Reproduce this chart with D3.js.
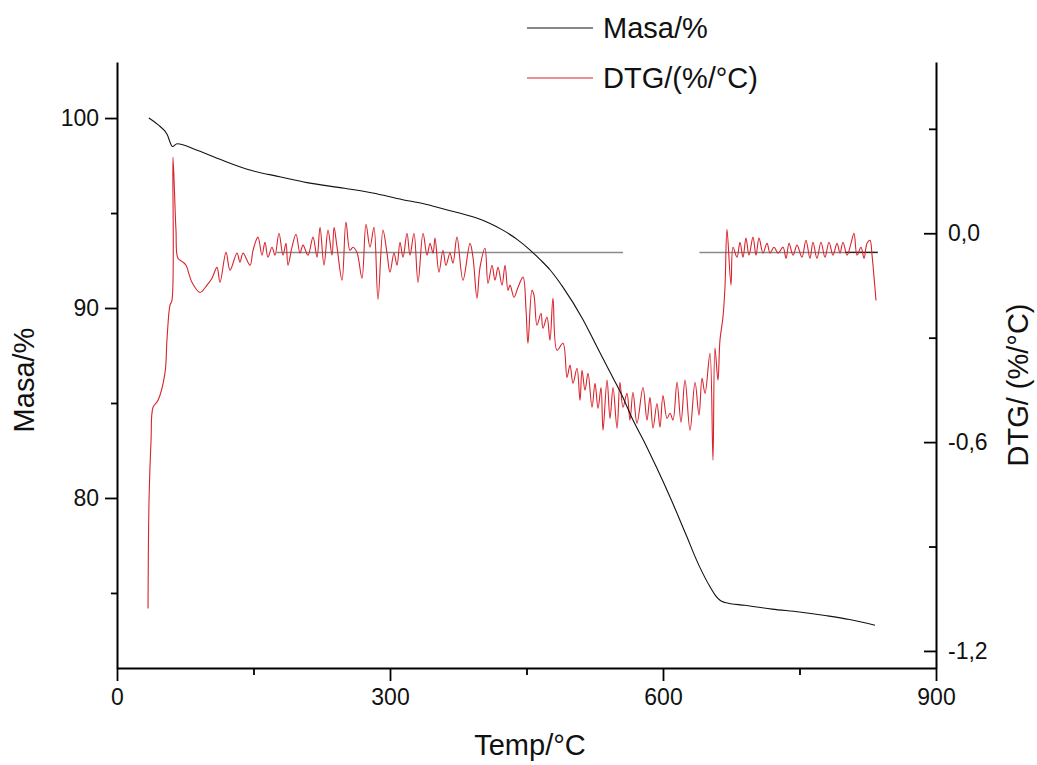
<!DOCTYPE html>
<html>
<head>
<meta charset="utf-8">
<script src="https://cdnjs.cloudflare.com/ajax/libs/d3/7.8.5/d3.min.js"></script>
<style>
  html, body { margin: 0; padding: 0; background: #fff; }
  svg { display: block; font-family: "Liberation Sans", Arial, sans-serif; }
</style>
</head>
<body>
<svg id="chart" width="1037" height="765"></svg>
<script>
// ---------- data ----------
const tempTicks = [0, 300, 600, 900];
const tempMinorTicks = [150, 450, 750];
const masaTicks = [80, 90, 100];
const masaMinorTicks = [75, 85, 95];
const dtgTicks = [-1.2, -0.6, 0.0];
const dtgTickLabels = ["-1,2", "-0,6", "0,0"];
const dtgMinorTicks = [-0.9, -0.3, 0.3];

const seriesNames = ["Masa/%", "DTG/(%/°C)"];

// Mass curve (TG)
const masaTemp = [35, 45, 55, 61, 66, 88, 120, 146, 180, 209, 250, 281, 314, 336, 360, 391, 410, 424, 440, 454, 465, 476, 490, 512, 527, 542, 555, 567, 580, 593, 610, 625, 640, 652, 658, 663, 668, 690, 720, 750, 780, 805, 833];
const masaValues = [100.0, 99.65, 99.15, 98.5, 98.65, 98.3, 97.7, 97.26, 96.9, 96.6, 96.3, 96.05, 95.7, 95.5, 95.2, 94.8, 94.45, 94.1, 93.6, 93.05, 92.55, 92.0, 91.1, 89.4, 88.0, 86.6, 85.4, 84.1, 82.9, 81.6, 79.8, 78.1, 76.4, 75.3, 74.85, 74.6, 74.5, 74.35, 74.15, 74.0, 73.8, 73.6, 73.3];

// DTG curve
const dtgTemp = [34.1, 35.2, 37.4, 39.6, 45.1, 52.7, 54.9, 58.2, 60.4, 61.5, 64.8, 67.0, 72.5, 75.8, 82.4, 91.2, 98.9, 104.4, 109.9, 113.2, 119.8, 124.2, 131.9, 135.2, 138.5, 146.2, 149.5, 154.9, 159.3, 162.6, 165.9, 170.3, 173.6, 178.0, 182.4, 185.7, 187.9, 192.3, 196.7, 201.1, 204.4, 209.9, 215.4, 219.8, 223.1, 227.5, 231.9, 236.3, 238.5, 241.8, 247.3, 251.6, 256.0, 259.3, 263.7, 269.2, 273.6, 278.0, 282.4, 286.8, 292.3, 296.7, 300.0, 304.4, 307.7, 311.0, 314.3, 318.7, 322.0, 326.4, 330.8, 336.3, 340.7, 344.0, 347.3, 349.5, 353.8, 358.2, 361.5, 365.9, 369.2, 373.6, 380.2, 387.9, 391.2, 395.6, 398.9, 404.4, 407.7, 412.1, 415.4, 418.7, 423.1, 426.4, 429.7, 431.9, 436.3, 440.7, 446.2, 449.5, 451.6, 456.0, 458.2, 461.5, 465.9, 468.1, 472.5, 475.8, 479.1, 483.5, 490.1, 494.5, 497.8, 501.1, 505.5, 508.8, 511.0, 514.3, 517.6, 522.0, 525.3, 528.6, 531.9, 534.1, 538.5, 541.8, 545.1, 549.5, 552.7, 556.0, 560.4, 563.7, 567.0, 571.4, 578.0, 582.4, 585.7, 589.0, 593.4, 596.7, 600.0, 604.4, 607.7, 611.0, 615.4, 619.8, 624.2, 629.7, 635.2, 639.6, 642.9, 646.2, 651.6, 654.9, 657.1, 660.4, 662.6, 665.9, 668.1, 670.3, 674.7, 676.9, 681.3, 684.6, 687.9, 691.2, 694.5, 698.9, 702.2, 705.5, 709.9, 714.3, 717.6, 722.0, 726.4, 731.9, 735.2, 738.5, 742.9, 747.3, 752.7, 757.1, 761.5, 764.8, 769.2, 773.6, 778.0, 782.4, 786.8, 791.2, 794.5, 797.8, 802.2, 806.6, 809.9, 813.2, 817.6, 820.9, 824.2, 827.5, 829.7, 831.9, 834.1];
const dtgValues = [-1.078, -0.767, -0.595, -0.500, -0.480, -0.402, -0.307, -0.207, -0.193, 0.218, 0.009, -0.072, -0.083, -0.092, -0.141, -0.170, -0.149, -0.129, -0.098, -0.141, -0.055, -0.106, -0.057, -0.083, -0.057, -0.092, -0.049, -0.011, -0.063, -0.026, -0.069, -0.040, -0.063, 0.000, -0.063, -0.029, -0.092, -0.040, -0.003, -0.057, -0.034, -0.063, -0.011, -0.069, 0.017, -0.092, 0.009, -0.063, 0.017, -0.040, -0.135, 0.032, -0.049, -0.040, -0.055, -0.129, 0.026, -0.040, 0.017, -0.190, 0.009, -0.057, -0.112, -0.057, -0.092, -0.026, -0.069, 0.000, -0.063, 0.000, -0.141, 0.000, -0.063, -0.029, -0.057, -0.014, -0.112, -0.049, -0.092, -0.057, -0.086, -0.011, -0.135, -0.029, -0.069, -0.187, -0.098, -0.043, -0.144, -0.092, -0.135, -0.098, -0.149, -0.092, -0.164, -0.149, -0.184, -0.155, -0.126, -0.221, -0.316, -0.164, -0.178, -0.264, -0.230, -0.273, -0.241, -0.307, -0.187, -0.336, -0.316, -0.414, -0.379, -0.431, -0.388, -0.480, -0.394, -0.451, -0.402, -0.500, -0.431, -0.503, -0.443, -0.566, -0.422, -0.532, -0.443, -0.560, -0.428, -0.500, -0.460, -0.537, -0.457, -0.546, -0.443, -0.537, -0.471, -0.560, -0.489, -0.557, -0.466, -0.532, -0.517, -0.537, -0.428, -0.543, -0.422, -0.566, -0.428, -0.523, -0.417, -0.460, -0.345, -0.652, -0.330, -0.422, -0.307, -0.241, -0.155, 0.011, -0.149, -0.040, -0.069, -0.026, -0.069, -0.014, -0.063, -0.011, -0.063, -0.014, -0.057, -0.029, -0.057, -0.040, -0.057, -0.040, -0.072, -0.029, -0.063, -0.034, -0.069, -0.020, -0.072, -0.026, -0.072, -0.026, -0.069, -0.026, -0.063, -0.029, -0.057, -0.026, -0.063, -0.029, 0.000, -0.063, -0.040, -0.072, -0.029, -0.020, -0.063, -0.126, -0.193];

// reference (baseline) line segments on the DTG scale
const baselineDTG = -0.055;
const baselineSegments = [[175, 556], [640, 836]];
const baselineDarkSegment = [800, 836];

// ---------- drawing ----------
const svg = d3.select("#chart");
const padL = 117, padR = 936, padT = 62, padB = 668;

const x = d3.scaleLinear().domain([0, 900]).range([padL, padR]);
const yM = d3.scaleLinear().domain([71.05, 102.95]).range([padB, padT]);
const yD = d3.scaleLinear().domain([-1.249, 0.492]).range([padB, padT]);

const tickFont = 23;
const titleFont = 29;

// baseline
const gBase = svg.append("g");
baselineSegments.forEach(s => {
  gBase.append("line")
    .attr("x1", x(s[0])).attr("x2", x(s[1]))
    .attr("y1", yD(baselineDTG)).attr("y2", yD(baselineDTG))
    .attr("stroke", "#8a8a8a").attr("stroke-width", 1.5);
});
gBase.append("line")
  .attr("x1", x(baselineDarkSegment[0])).attr("x2", x(baselineDarkSegment[1]))
  .attr("y1", yD(baselineDTG)).attr("y2", yD(baselineDTG))
  .attr("stroke", "#222").attr("stroke-width", 1.2);

// DTG curve
const dtgData = dtgTemp.map((t, i) => [t, dtgValues[i]]);
const dtgLine = d3.line().x(d => x(d[0])).y(d => yD(d[1])).curve(d3.curveCatmullRom.alpha(0.5));
svg.append("path")
  .datum(dtgData)
  .attr("fill", "none")
  .attr("stroke", "#d8232c")
  .attr("stroke-width", 1.1)
  .attr("d", dtgLine);

// Masa curve
const masaData = masaTemp.map((t, i) => [t, masaValues[i]]);
svg.append("path")
  .datum(masaData)
  .attr("fill", "none")
  .attr("stroke", "#111")
  .attr("stroke-width", 1.1)
  .attr("d", d3.line().x(d => x(d[0])).y(d => yM(d[1])).curve(d3.curveMonotoneX));

// axes
function styleAxis(g) {
  g.selectAll(".domain").attr("stroke", "#000").attr("stroke-width", 2);
  g.selectAll(".tick line").attr("stroke", "#000").attr("stroke-width", 1.8);
  g.selectAll(".tick text").attr("fill", "#111").style("font-size", tickFont + "px")
    .style("font-family", '"Liberation Sans", Arial, sans-serif');
}

// bottom
const gx = svg.append("g").attr("transform", `translate(0,${padB})`);
gx.call(d3.axisBottom(x).tickValues(tempTicks).tickSizeInner(13).tickSizeOuter(0).tickPadding(8).tickFormat(d3.format("d")));
styleAxis(gx);
const gxm = svg.append("g").attr("transform", `translate(0,${padB})`);
gxm.call(d3.axisBottom(x).tickValues(tempMinorTicks).tickSizeInner(7).tickSizeOuter(0).tickFormat(""));
gxm.select(".domain").remove();
styleAxis(gxm);

// left
const gy = svg.append("g").attr("transform", `translate(${padL},0)`);
gy.call(d3.axisLeft(yM).tickValues(masaTicks).tickSizeInner(12).tickSizeOuter(0).tickPadding(6).tickFormat(d3.format("d")));
styleAxis(gy);
const gym = svg.append("g").attr("transform", `translate(${padL},0)`);
gym.call(d3.axisLeft(yM).tickValues(masaMinorTicks).tickSizeInner(6).tickSizeOuter(0).tickFormat(""));
gym.select(".domain").remove();
styleAxis(gym);

// right (ticks pointing inward)
const gr = svg.append("g").attr("transform", `translate(${padR},0)`);
gr.call(d3.axisRight(yD).tickValues(dtgTicks).tickSizeInner(-12).tickSizeOuter(0).tickPadding(12)
  .tickFormat(d => dtgTickLabels[dtgTicks.indexOf(d)]));
styleAxis(gr);
gr.selectAll(".tick text").attr("text-anchor", "start");
const grm = svg.append("g").attr("transform", `translate(${padR},0)`);
grm.call(d3.axisRight(yD).tickValues(dtgMinorTicks).tickSizeInner(-7).tickSizeOuter(0).tickFormat(""));
grm.select(".domain").remove();
styleAxis(grm);

// titles
svg.append("text")
  .attr("x", 530).attr("y", 755)
  .attr("text-anchor", "middle").style("font-size", titleFont + "px").attr("fill", "#111")
  .text("Temp/°C");
svg.append("text")
  .attr("transform", `translate(34,380) rotate(-90)`)
  .attr("text-anchor", "middle").style("font-size", titleFont + "px").attr("fill", "#111")
  .text("Masa/%");
svg.append("text")
  .attr("transform", `translate(1028,385) rotate(-90)`)
  .attr("text-anchor", "middle").style("font-size", titleFont + "px").attr("fill", "#111")
  .text("DTG/ (%/°C)");

// legend
const legendColors = ["#111", "#d8232c"];
const legendY = [28, 78];
seriesNames.forEach((name, i) => {
  svg.append("line")
    .attr("x1", 527).attr("x2", 593)
    .attr("y1", legendY[i]).attr("y2", legendY[i])
    .attr("stroke", legendColors[i]).attr("stroke-width", 1.2);
  svg.append("text")
    .attr("x", 603).attr("y", legendY[i] + 10)
    .style("font-size", titleFont + "px").attr("fill", "#111")
    .text(name);
});
</script>
</body>
</html>
